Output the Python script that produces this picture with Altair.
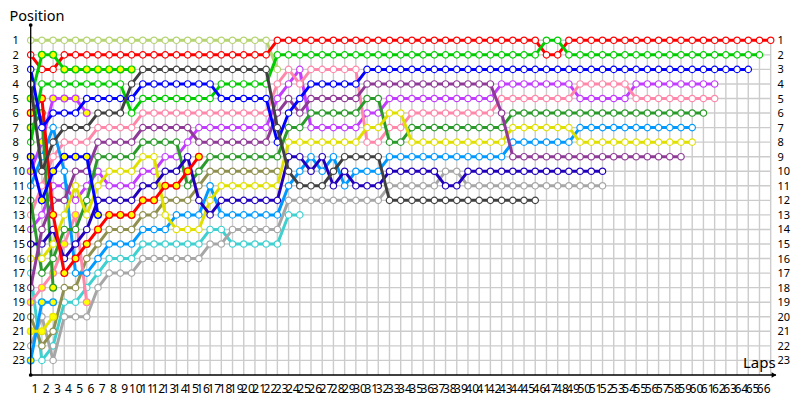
import altair as alt
import pandas as pd

MAX_LAP = 66
POSITIONS = list(range(1, 24))
LAP_TICKS = list(range(1, MAX_LAP + 1))

pale = [1]*22 + [3]
red = [2, 3, 3] + [2]*19 + [1]*24 + [2]*2 + [1]*19
green1 = [5, 2, 2] + [3]*7
green2 = [8] + [4]*8 + [6] + [5]*7 + [4]*5 + [2]*24 + [1]*2 + [2]*18
blue = [3, 7, 6, 6, 6] + [5]*5 + [4]*7 + [5]*5 + [8, 6, 5] + [4]*5 + [3]*35
black = [4, 10, 8, 7, 7, 7, 6, 6, 6, 4] + [3]*12 + [7, 10] + [11]*3 + [10] + [9]*4 + [12]*14
red2 = [6, 5, 13, 17, 16, 15, 14, 13, 13, 13, 12, 12, 11, 11, 10, 9]
dgreen1 = [7, 6, 18]
blue2 = [9, 12, 10, 9, 9, 9, 13]
purple_y = [10, 8, 5, 5, 5, 6]
lblue = [11, 9, 7, 10, 17, 17, 16, 15, 15, 15] + [14]*3 + [13]*3 + [11] + [13]*6 + [11, 10, 9, 10, 9, 11] + [10]*3 + [9]*11 + [8]*6 + [7]*11
dgreen2 = [12, 17, 16, 14, 14, 12, 9, 9, 9, 9] + [8]*4 + [11, 10] + [9]*7 + [7]*2 + [6]*5 + [5]*2 + [8]*2 + [7]*9 + [6]*18
pink = [13, 11, 9, 8, 8, 8] + [7]*4 + [6]*12 + [4, 3, 4] + [3]*5 + [8]*2 + [7]*2 + [6]*8 + [5]*7 + [4]*5 + [5]*8
violet = [14, 13, 11, 11, 12, 11, 10, 11, 11, 11] + [10]*2 + [9]*2 + [8] + [7]*7 + [5, 4, 3] + [7]*5 + [6]*2 + [5]*10 + [4]*7 + [5]*5 + [4]*8
navy = [15, 15, 14, 16, 15, 14, 12, 12, 12, 12] + [11]*2 + [10]*2 + [9, 12, 13] + [12]*6 + [9, 9, 10, 9, 11, 10] + [11]*3 + [10]*5 + [11]*2 + [10]*13
yellow = [16, 16, 15, 13, 11, 13, 11, 10, 10, 10] + [9]*2 + [13] + [14]*3 + [12] + [11]*6 + [8]*7 + [7]*2 + [6]*2 + [8]*9 + [7]*6 + [8]*11
teal = [17, 23, 22, 19, 19, 18, 17, 16, 16, 16] + [15]*6 + [14]*2 + [15]*5 + [13]*2
dpurple = [18, 14, 12, 12, 10, 10, 8, 8, 8, 8] + [7]*5 + [8]*7 + [6, 5, 6] + [5]*5 + [4]*12 + [6] + [9]*16
pink_y = [19, 18, 17, 15, 13, 19]
olive = [20, 22, 21, 18, 18, 16, 15, 14, 14, 14] + [13]*2 + [12]*3 + [11] + [10]*7
yellow_y = [21, 21, 20]
gray = [22, 20, 23, 20, 20, 20, 18, 17, 17, 17] + [16]*6 + [15]*2 + [14]*5 + [12]*9 + [11]*5 + [10]*2 + [11]*13
lblue_y = [23, 19, 19]

# positions, colour, yellow-filled markers  (first drawn at the bottom)
drivers = [
    (teal, "#3fd0d0", False),
    (gray, "#a6a6a6", False),
    (olive, "#8f8f4f", False),
    (lblue_y, "#0099ff", True),
    (yellow_y, "#e6e600", True),
    (pale, "#b5d472", False),
    (violet, "#c23cff", False),
    (purple_y, "#c23cff", True),
    (pink_y, "#ff88aa", True),
    (pink, "#ff88aa", False),
    (lblue, "#0099ff", False),
    (dgreen1, "#2a9a2a", True),
    (dgreen2, "#2a9a2a", False),
    (yellow, "#e0e000", False),
    (navy, "#2200bb", False),
    (dpurple, "#8e3a96", False),
    (red2, "#ff0000", True),
    (red, "#ff0000", False),
    (green1, "#00cc00", True),
    (green2, "#00cc00", False),
    (blue2, "#0000ff", True),
    (blue, "#0000ff", False),
    (black, "#404040", False),
]

X0, X1 = 22.7, 762.7
Y0, Y1 = 32.3, 352.4
BOTTOM, TOP = 367, 17
x_s = alt.Scale(domain=[0, MAX_LAP], range=[X0, X1])
y_s = alt.Scale(domain=[1, 23], range=[Y0, Y1])
X = alt.X("lap:Q", scale=x_s, axis=None)
Y = alt.Y("pos:Q", scale=y_s, axis=None)
GRID = "#cccccc"
FONT = "Noto Sans"

laps_df = pd.DataFrame({"lap": LAP_TICKS})
pos_df = pd.DataFrame({"pos": POSITIONS})
one = laps_df.head(1)

layers = [
    alt.Chart(laps_df).mark_rule(color=GRID, strokeWidth=1.4).encode(
        x=X, y=alt.value(29), y2=alt.value(BOTTOM)),
    alt.Chart(pos_df).mark_rule(color=GRID, strokeWidth=1.4).encode(
        y=Y, x=alt.value(X0), x2=alt.value(X1)),
]

for values, colour, filled in drivers:
    df = pd.DataFrame({"lap": list(range(len(values))), "pos": values})
    layers.append(alt.Chart(df).mark_line(color=colour, strokeWidth=3).encode(x=X, y=Y))
    layers.append(alt.Chart(df).mark_point(
        shape="circle", size=46 if filled else 41, filled=True,
        fill="#ffff00" if filled else "#ffffff",
        stroke=colour, strokeWidth=1.2, opacity=1).encode(x=X, y=Y))

layers += [
    alt.Chart(one).mark_rule(color="black", strokeWidth=1.3).encode(
        x=alt.value(X0), y=alt.value(TOP), y2=alt.value(BOTTOM)),
    alt.Chart(one).mark_rule(color="black", strokeWidth=1.3).encode(
        y=alt.value(BOTTOM), x=alt.value(X0), x2=alt.value(768)),
    alt.Chart(one).mark_point(shape="circle", filled=True, color="black", size=14, opacity=1).encode(
        x=alt.value(X0), y=alt.value(TOP)),
    alt.Chart(one).mark_point(shape="circle", filled=True, color="black", size=14, opacity=1).encode(
        x=alt.value(X0), y=alt.value(BOTTOM)),
    alt.Chart(one).mark_point(shape="triangle-right", filled=True, color="black", size=30, opacity=1).encode(
        x=alt.value(766), y=alt.value(BOTTOM)),
    alt.Chart(pos_df).mark_text(font=FONT, fontSize=11, align="left", dy=1, color="#000000").encode(
        x=alt.value(4.5), y=Y, text="pos:Q"),
    alt.Chart(pos_df).mark_text(font=FONT, fontSize=11, align="left", dy=1, color="#000000").encode(
        x=alt.value(769.5), y=Y, text="pos:Q"),
    alt.Chart(laps_df).mark_text(font=FONT, fontSize=12, align="center", dx=-7, color="#000000").encode(
        x=X, y=alt.value(380.5), text="lap:Q"),
    alt.Chart(pd.DataFrame({"t": ["Position"]})).mark_text(font=FONT, fontSize=14.5, align="left", color="#000000").encode(
        x=alt.value(1.5), y=alt.value(9), text="t:N"),
    alt.Chart(pd.DataFrame({"t": ["Laps"]})).mark_text(font=FONT, fontSize=15, align="left", color="#000000").encode(
        x=alt.value(735), y=alt.value(355), text="t:N"),
]

chart = alt.layer(*layers).properties(
    width=784, height=392, padding=0, autosize="none",
    background="#ffffff",
).configure_view(stroke=None)

chart.save("out.html", embed_options={"renderer": "svg", "actions": False})
